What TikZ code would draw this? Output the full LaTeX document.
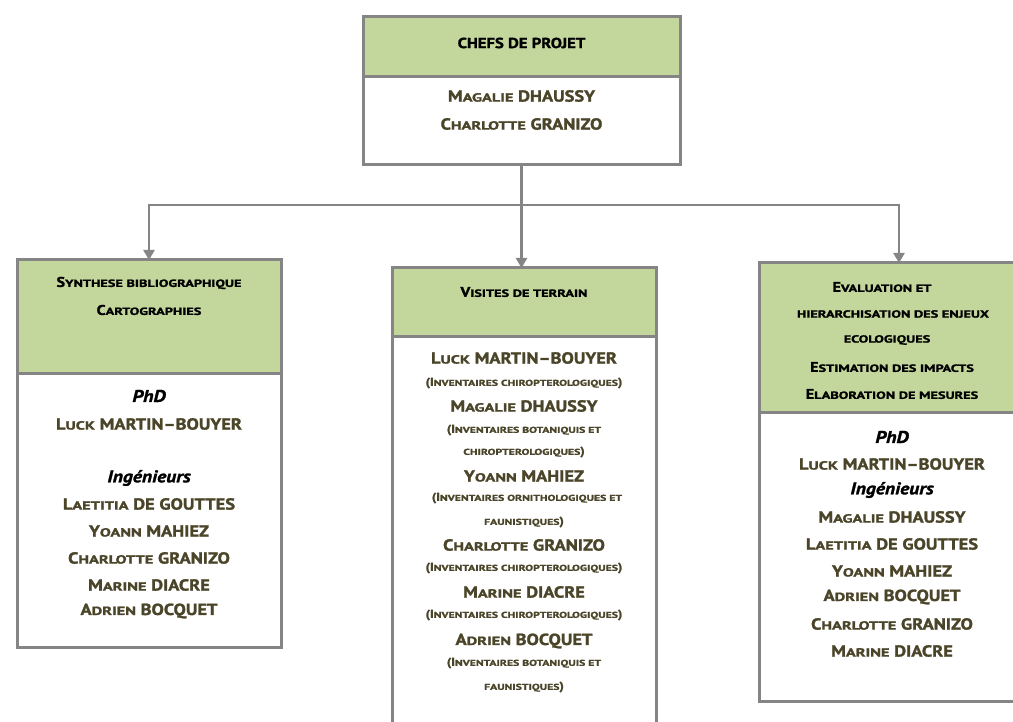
\documentclass[tikz,border=0pt]{standalone}
\usepackage{fontspec}
\usepackage{graphicx}
\setmainfont{PT Sans}[FakeStretch=1.15, BoldFeatures={FakeBold=1.5}, BoldItalicFeatures={FakeBold=1.5}]
\usetikzlibrary{arrows.meta}
\definecolor{hdrgreen}{HTML}{C3D69B}
\definecolor{bordergray}{HTML}{858585}
\definecolor{olive}{HTML}{4A4429}
\makeatletter
\newcommand\sm[1]{\scalebox{1.2}[1]{\fontsize{\fpeval{0.74*\f@size}}{\fpeval{0.9*\f@size}}\selectfont\MakeUppercase{#1}}}
\makeatother
\tikzset{
  hdrbox/.style={draw=bordergray, line width=3pt, fill=hdrgreen, anchor=north west, inner sep=0pt, outer sep=0pt},
  bodybox/.style={draw=bordergray, line width=3pt, fill=white, anchor=north west, inner sep=0pt, outer sep=0pt},
  conn/.style={draw=bordergray, line width=2.6pt},
  arr/.style={conn, -{Triangle[length=10pt,width=11pt]}},
  nm/.style={text=olive, font=\bfseries\fontsize{16}{18}\selectfont, inner sep=0pt},
  sub/.style={text=olive, font=\bfseries\fontsize{11.5}{13}\selectfont, inner sep=0pt},
  hd/.style={text=black, font=\bfseries\fontsize{14}{16}\selectfont, inner sep=0pt},
  role/.style={text=black, font=\bfseries\itshape\fontsize{17}{19}\selectfont, inner sep=0pt},
}
\begin{document}
\begin{tikzpicture}[x=1pt,y=-1pt]
\useasboundingbox (0,0) rectangle (1013,722);
% top box
\node[bodybox, minimum width=317, minimum height=148] (tb) at (363,17) {};
\node[hdrbox, minimum width=317, minimum height=60] (th) at (363,17) {};
\node[hd, font=\bfseries\fontsize{14.5}{16}\selectfont] (t1) at (521.5,43) {CHEFS DE PROJET};
\node[nm] (t2) at (521.5,96) {M\sm{agalie} DHAUSSY};
\node[nm] (t3) at (521.5,124) {C\sm{harlotte} GRANIZO};
% left box
\node[bodybox, minimum width=264, minimum height=387] (lb) at (17,260) {};
\node[hdrbox, minimum width=264, minimum height=113] (lh) at (17,260) {};
\node[hd] (l1) at (149,283) {S\sm{ynthese bibliographique}};
\node[hd] (l2) at (149,310) {C\sm{artographies}};
\node[role] (l3) at (149,396) {PhD};
\node[nm] (l4) at (149,424) {L\sm{uck} MARTIN--BOUYER};
\node[role] (l5) at (149,478) {Ingénieurs};
\node[nm] (l6) at (149,504) {L\sm{aetitia} DE GOUTTES};
\node[nm] (l7) at (149,531) {Y\sm{oann} MAHIEZ};
\node[nm] (l8) at (149,558) {C\sm{harlotte} GRANIZO};
\node[nm] (l9) at (149,585) {M\sm{arine} DIACRE};
\node[nm] (l10) at (149,611) {A\sm{drien} BOCQUET};
% centre box
\node[bodybox, minimum width=264, minimum height=480] (cb) at (392,268) {};
\node[hdrbox, minimum width=264, minimum height=69] (ch) at (392,268) {};
\node[hd] (c1) at (524,292) {V\sm{isites de terrain}};
\node[nm] (c2) at (524,358) {L\sm{uck} MARTIN--BOUYER};
\node[sub] (c3) at (524,383) {(I\sm{nventaires chiropterologiques})};
\node[nm] (c4) at (524,406) {M\sm{agalie} DHAUSSY};
\node[sub] (c5) at (524,430) {(I\sm{nventaires botaniquis et}};
\node[sub] (c6) at (524,452) {\sm{chiropterologiques})};
\node[nm] (c7) at (524,476) {Y\sm{oann} MAHIEZ};
\node[sub] (c8) at (527,498) {(I\sm{nventaires ornithologiques et}};
\node[sub] (c9) at (524,522) {\sm{faunistiques})};
\node[nm] (c10) at (524,545) {C\sm{harlotte} GRANIZO};
\node[sub] (c11) at (524,568) {(I\sm{nventaires chiropterologiques})};
\node[nm] (c12) at (524,592) {M\sm{arine} DIACRE};
\node[sub] (c13) at (524,615) {(I\sm{nventaires chiropterologiques})};
\node[nm] (c14) at (524,641) {A\sm{drien} BOCQUET};
\node[sub] (c15) at (524,663) {(I\sm{nventaires botaniquis et}};
\node[sub] (c16) at (524,687) {\sm{faunistiques})};
% right box
\node[bodybox, minimum width=280, minimum height=438] (rb) at (759,263) {};
\node[hdrbox, minimum width=280, minimum height=149] (rh) at (759,263) {};
\node[hd] (r1) at (882,287) {E\sm{valuation et}};
\node[hd] (r2) at (893,314) {\sm{hierarchisation des enjeux}};
\node[hd] (r3) at (887,340) {\sm{ecologiques}};
\node[hd] (r4) at (892,367) {E\sm{stimation des impacts}};
\node[hd] (r5) at (892,394) {E\sm{laboration de mesures}};
\node[role] (r6) at (892,437) {PhD};
\node[nm] (r7) at (892,464) {L\sm{uck} MARTIN--BOUYER};
\node[role] (r8) at (892,490) {Ingénieurs};
\node[nm] (r9) at (892,517) {M\sm{agalie} DHAUSSY};
\node[nm] (r10) at (892,544) {L\sm{aetitia} DE GOUTTES};
\node[nm] (r11) at (892,571) {Y\sm{oann} MAHIEZ};
\node[nm] (r12) at (892,597) {A\sm{drien} BOCQUET};
\node[nm] (r13) at (892,624) {C\sm{harlotte} GRANIZO};
\node[nm] (r14) at (892,651) {M\sm{arine} DIACRE};
% connectors
\path (tb.south) ++(0,40) coordinate (bus);
\draw[conn] (tb.south) -- (bus);
\draw[arr] (bus) -| (lh.north);
\draw[arr] (bus) -| (rh.north);
\draw[arr] (bus) -- (bus |- ch.north);
\end{tikzpicture}
\end{document}
